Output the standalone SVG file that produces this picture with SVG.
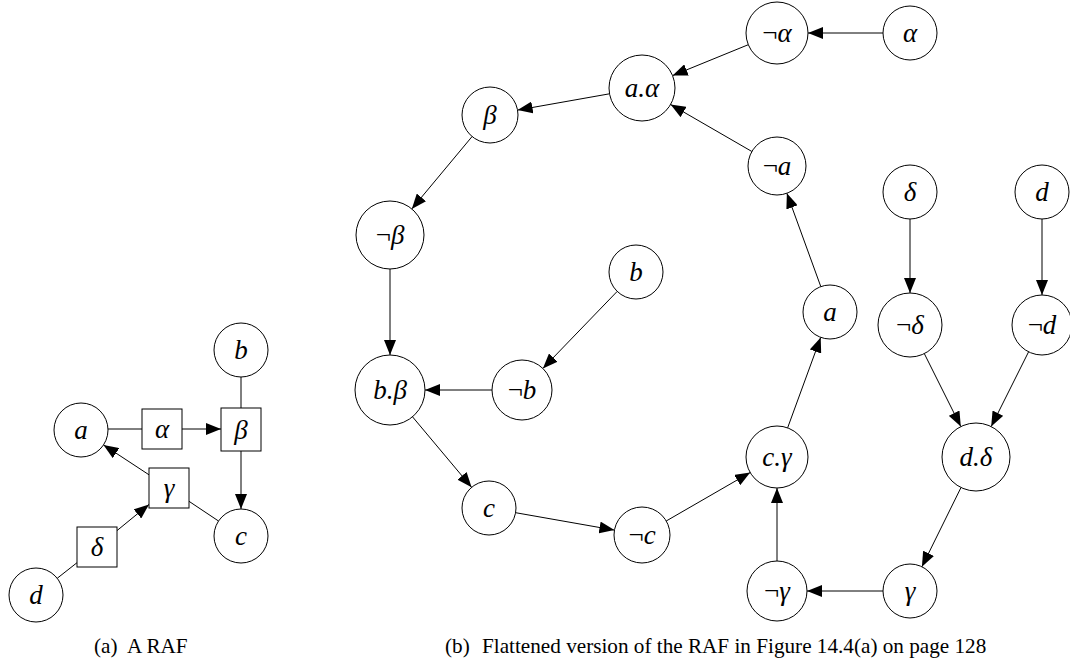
<svg xmlns="http://www.w3.org/2000/svg" width="1070" height="667" viewBox="0 0 1070 667">
<style>
.n{fill:#fff;stroke:#000;stroke-width:1}
.l{font-family:"Liberation Serif","Times New Roman",serif;font-style:italic;font-size:27px;text-anchor:middle;fill:#000}
.u{font-style:normal}
.e{fill:none;stroke:#000;stroke-width:1}
.a{marker-end:url(#ah)}
.cap{font-family:"Liberation Serif","Times New Roman",serif;font-size:21.2px;fill:#000}
</style>
<defs>
<marker id="ah" markerUnits="userSpaceOnUse" viewBox="0 0 15 12" markerWidth="15" markerHeight="12" refX="15" refY="6" orient="auto">
<path d="M0,0 L15,6 L0,12 z" fill="#000"/>
</marker>
</defs>
<rect width="1070" height="667" fill="#fff"/>

<g id="connectors">
<!-- (a) -->
<line class="e" x1="108" y1="429" x2="142" y2="429"/>
<line class="e a" x1="182" y1="429" x2="221" y2="429"/>
<line class="e" x1="241" y1="377" x2="241" y2="408"/>
<line class="e a" x1="241" y1="451" x2="241" y2="509"/>
<line class="e a" x1="149" y1="474.8" x2="103.5" y2="444.9"/>
<line class="e" x1="189" y1="501.3" x2="218.5" y2="521"/>
<line class="e a" x1="117" y1="530.6" x2="149" y2="504.4"/>
<line class="e" x1="57.2" y1="578.3" x2="77" y2="562.7"/>
<!-- (b) -->
<line class="e a" x1="883" y1="33" x2="808" y2="33"/>
<line class="e a" x1="748.3" y1="44.7" x2="672.6" y2="75.6"/>
<line class="e a" x1="751.9" y1="151.5" x2="670.6" y2="104.5"/>
<line class="e a" x1="609.5" y1="93.8" x2="517.6" y2="110.1"/>
<line class="e a" x1="472.1" y1="136.5" x2="411.8" y2="208.9"/>
<line class="e a" x1="390" y1="269" x2="390" y2="355"/>
<line class="e a" x1="617.2" y1="291.4" x2="542.9" y2="368.4"/>
<line class="e a" x1="492" y1="390" x2="425" y2="390"/>
<line class="e a" x1="412.5" y1="416.8" x2="471.6" y2="487.3"/>
<line class="e a" x1="515.6" y1="512.7" x2="614.4" y2="530.1"/>
<line class="e a" x1="666.2" y1="521" x2="750.2" y2="472.5"/>
<line class="e a" x1="787.6" y1="427.9" x2="820.7" y2="337.4"/>
<line class="e a" x1="820.8" y1="286.6" x2="786.9" y2="193.3"/>
<line class="e a" x1="910" y1="219" x2="910" y2="293"/>
<line class="e a" x1="1042" y1="219" x2="1042" y2="295"/>
<line class="e a" x1="924.3" y1="353.6" x2="960.8" y2="426.6"/>
<line class="e a" x1="1028.6" y1="351.8" x2="991.2" y2="426.6"/>
<line class="e a" x1="961" y1="487.5" x2="921.9" y2="566.8"/>
<line class="e a" x1="883" y1="591" x2="807" y2="591"/>
<line class="e a" x1="777" y1="561" x2="777" y2="488"/>
</g>

<!-- (a) nodes -->
<g id="a_a"><circle class="n" cx="81" cy="430" r="27"/><text class="l" x="81" y="439">a</text></g>
<g id="a_alpha"><rect class="n" x="142" y="409" width="40" height="40"/><text class="l" x="162" y="438">α</text></g>
<g id="a_beta"><rect class="n" x="221" y="408" width="40" height="43"/><text class="l" x="241" y="439">β</text></g>
<g id="a_b"><circle class="n" cx="241" cy="350" r="27"/><text class="l" x="241" y="359">b</text></g>
<g id="a_c"><circle class="n" cx="241" cy="536" r="27"/><text class="l" x="241" y="545">c</text></g>
<g id="a_gamma"><rect class="n" x="149" y="468" width="40" height="40"/><text class="l" x="169" y="497">γ</text></g>
<g id="a_delta"><rect class="n" x="77" y="527" width="40" height="40"/><text class="l" x="97" y="556">δ</text></g>
<g id="a_d"><circle class="n" cx="36" cy="595" r="27"/><text class="l" x="36" y="604">d</text></g>

<!-- (b) nodes -->
<g id="b_nalpha"><circle class="n" cx="777" cy="33" r="31"/><text class="l" x="777" y="42"><tspan class="u">¬</tspan>α</text></g>
<g id="b_alpha"><circle class="n" cx="910" cy="33" r="27"/><text class="l" x="910" y="42">α</text></g>
<g id="b_aalpha"><circle class="n" cx="642" cy="88" r="33"/><text class="l" x="642" y="97">a.α</text></g>
<g id="b_beta"><circle class="n" cx="490" cy="115" r="28"/><text class="l" x="490" y="124">β</text></g>
<g id="b_nbeta"><circle class="n" cx="390" cy="235" r="34"/><text class="l" x="390" y="244"><tspan class="u">¬</tspan>β</text></g>
<g id="b_na"><circle class="n" cx="777" cy="166" r="29"/><text class="l" x="777" y="175"><tspan class="u">¬</tspan>a</text></g>
<g id="b_delta"><circle class="n" cx="910" cy="192" r="27"/><text class="l" x="910" y="201">δ</text></g>
<g id="b_d"><circle class="n" cx="1042" cy="192" r="27"/><text class="l" x="1042" y="201">d</text></g>
<g id="b_b"><circle class="n" cx="636" cy="272" r="27"/><text class="l" x="636" y="281">b</text></g>
<g id="b_bbeta"><circle class="n" cx="390" cy="390" r="35"/><text class="l" x="390" y="399">b.β</text></g>
<g id="b_nb"><circle class="n" cx="522" cy="390" r="30"/><text class="l" x="522" y="399"><tspan class="u">¬</tspan>b</text></g>
<g id="b_a"><circle class="n" cx="830" cy="312" r="27"/><text class="l" x="830" y="321">a</text></g>
<g id="b_ndelta"><circle class="n" cx="910" cy="325" r="32"/><text class="l" x="910" y="334"><tspan class="u">¬</tspan>δ</text></g>
<g id="b_nd"><circle class="n" cx="1042" cy="325" r="30"/><text class="l" x="1042" y="334"><tspan class="u">¬</tspan>d</text></g>
<g id="b_c"><circle class="n" cx="489" cy="508" r="27"/><text class="l" x="489" y="517">c</text></g>
<g id="b_nc"><circle class="n" cx="642" cy="535" r="28"/><text class="l" x="642" y="544"><tspan class="u">¬</tspan>c</text></g>
<g id="b_cgamma"><circle class="n" cx="777" cy="457" r="31"/><text class="l" x="777" y="466">c.γ</text></g>
<g id="b_ddelta"><circle class="n" cx="976" cy="457" r="34"/><text class="l" x="976" y="466">d.δ</text></g>
<g id="b_ngamma"><circle class="n" cx="777" cy="591" r="30"/><text class="l" x="777" y="600"><tspan class="u">¬</tspan>γ</text></g>
<g id="b_gamma"><circle class="n" cx="910" cy="591" r="27"/><text class="l" x="910" y="600">γ</text></g>

<g id="captions">
<text class="cap" x="94" y="653">(a)</text>
<text class="cap" x="127" y="653">A RAF</text>
<text class="cap" x="445" y="653">(b)</text>
<text class="cap" x="482" y="653">Flattened version of the RAF in Figure 14.4(a) on page 128</text>
</g>
</svg>
